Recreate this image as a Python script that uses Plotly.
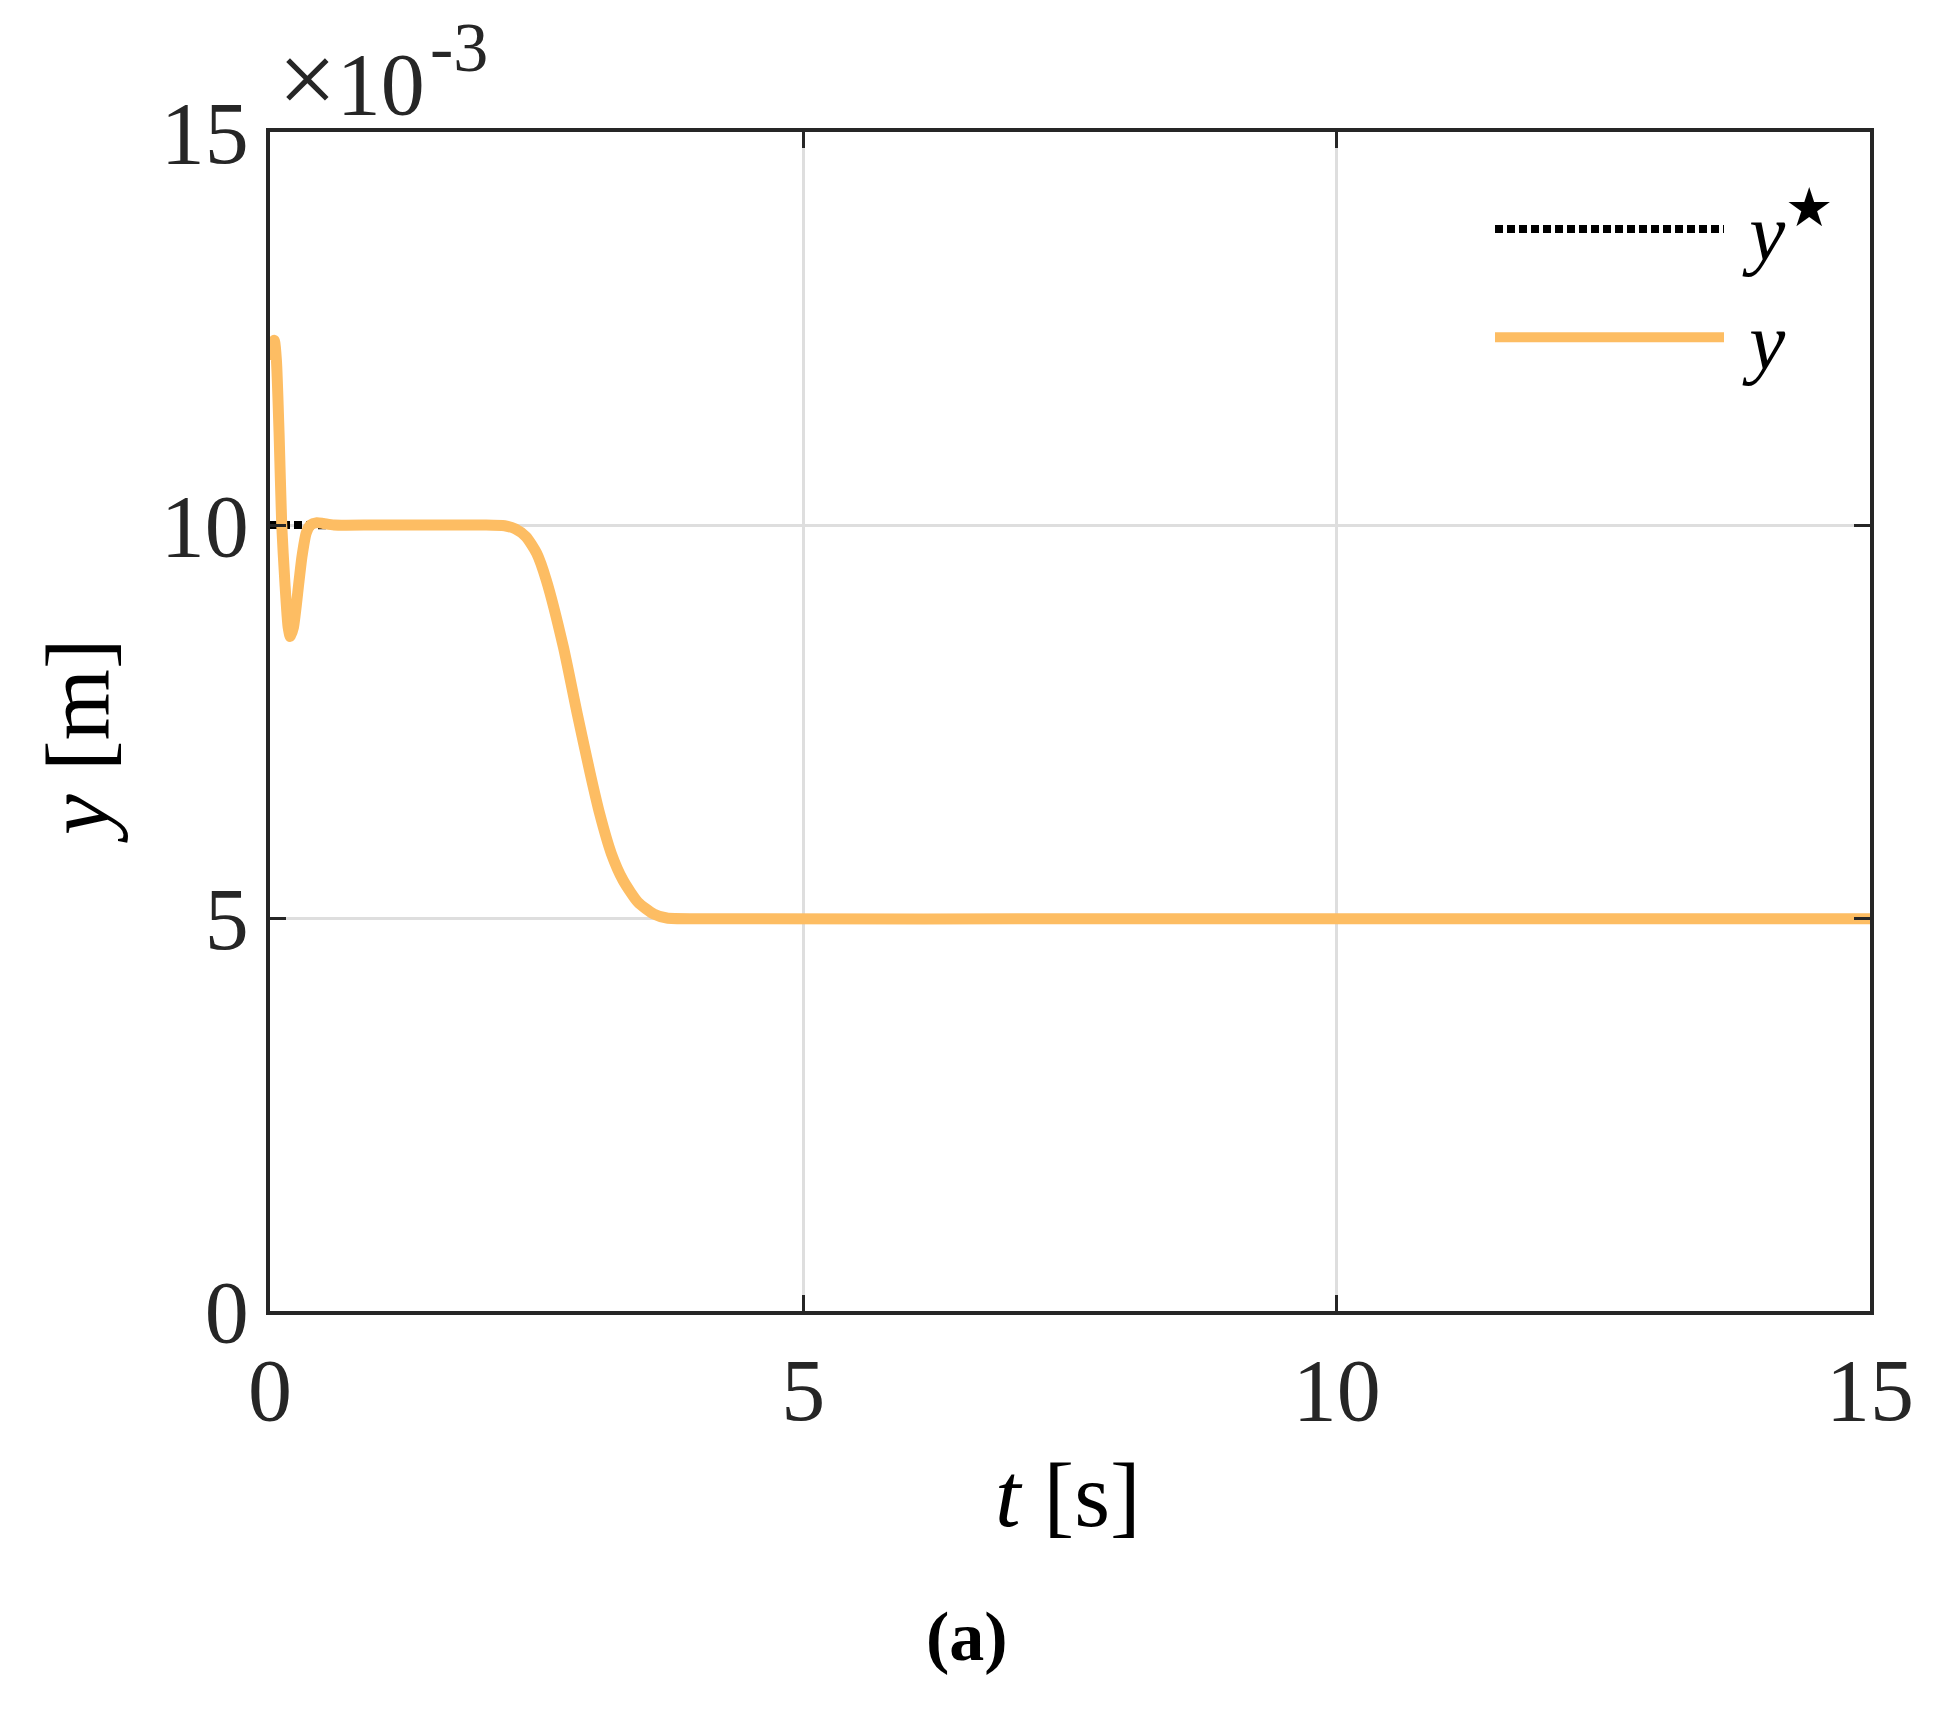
import plotly.graph_objects as go

# Time [s] and output y [x1e-3 m]
t_y = [0, 0.02, 0.04, 0.06, 0.085, 0.11, 0.14, 0.17, 0.19, 0.22, 0.27, 0.30, 0.34,
       0.38, 0.44, 0.5, 0.6, 1.0, 2.0, 2.2, 2.3, 2.4, 2.5, 2.59, 2.75, 2.88, 3.0, 3.09,
       3.2, 3.31, 3.45, 3.6, 3.72, 4.0, 8.0, 15.0]
y_vals = [12.1, 12.3, 12.35, 12.1, 11.17, 10.0, 9.26, 8.7, 8.58, 8.7, 9.26, 9.6, 9.9,
          10.0, 10.03, 10.02, 10.0, 10.0, 10.0, 9.99, 9.95, 9.85, 9.64, 9.30, 8.45, 7.60, 6.85, 6.33,
          5.82, 5.48, 5.2, 5.05, 5.0, 4.99, 4.99, 4.99]

# Reference trajectory y*
t_ref = [0, 0.5, 1.0, 2.0, 2.2, 2.3, 2.4, 2.5, 2.59, 2.75, 2.88, 3.0, 3.09,
         3.2, 3.31, 3.45, 3.6, 3.72, 4.0, 8.0, 15.0]
y_ref = [10.0, 10.0, 10.0, 10.0, 9.99, 9.95, 9.85, 9.64, 9.30, 8.45, 7.60, 6.85, 6.33,
         5.82, 5.48, 5.2, 5.05, 5.0, 4.99, 4.99, 4.99]

x_ticks = [0, 5, 10, 15]
y_ticks = [0, 5, 10, 15]

FONT = "Liberation Serif"
AX = "#262626"

fig = go.Figure()
fig.add_trace(go.Scatter(x=t_ref, y=y_ref, mode="lines",
                         name="\u00a0<i>y</i><sup><span style='font-size:54px'>★</span></sup>",
                         line=dict(color="black", width=8, dash="8px,4px")))
fig.add_trace(go.Scatter(x=t_y, y=y_vals, mode="lines", name="\u00a0<i>y</i>",
                         line=dict(color="#FDBD63", width=11, shape="spline", smoothing=0.6)))

axis_common = dict(showgrid=True, gridcolor="#DEDEDE", gridwidth=2.5, zeroline=False,
                   showline=True, linecolor=AX, linewidth=3.5, mirror="ticks",
                   ticks="inside", ticklen=16, tickwidth=3, tickcolor=AX,
                   tickfont=dict(family=FONT, size=88, color=AX))

fig.update_layout(
    width=1945, height=1711, autosize=False,
    margin=dict(l=270, r=75, t=132, b=400),
    paper_bgcolor="white", plot_bgcolor="white",
    xaxis=dict(range=[0, 15], tickvals=x_ticks, ticktext=[str(v) for v in x_ticks], **axis_common),
    yaxis=dict(range=[0, 15], tickvals=y_ticks, ticktext=[str(v) for v in y_ticks], **axis_common),
    showlegend=True,
    legend=dict(x=0.7625, y=0.968, xanchor="left", yanchor="top", bgcolor="rgba(0,0,0,0)",
                font=dict(family=FONT, size=81, color="black"), itemwidth=229),
    annotations=[
        dict(text="<span style='font-size:104px'>×</span>10", x=0.0, y=1.0, xref="paper", yref="paper",
             xanchor="left", yanchor="bottom",
             xshift=6, yshift=-6, showarrow=False, font=dict(family=FONT, size=88, color=AX)),
        dict(text="-3", x=0.0, y=1.0, xref="paper", yref="paper", xanchor="left", yanchor="bottom",
             xshift=158, yshift=44, showarrow=False, font=dict(family=FONT, size=70, color=AX)),
        dict(text="<i>t</i> [s]", x=0.4985, y=-0.156, xref="paper", yref="paper",
             xanchor="center", yanchor="middle", showarrow=False,
             font=dict(family=FONT, size=92, color="black")),
        dict(text="<i>y</i> [m]", x=-0.12, y=0.4835, xref="paper", yref="paper", textangle=-90,
             xanchor="center", yanchor="middle", showarrow=False,
             font=dict(family=FONT, size=92, color="black")),
        dict(text="<b>(a)</b>", x=0.4356, y=-0.2765, xref="paper", yref="paper",
             xanchor="center", yanchor="middle", showarrow=False,
             font=dict(family=FONT, size=70, color="black")),
    ],
)

fig.write_html("out.html", config={"displayModeBar": False},
               post_script="document.body.style.margin='0';document.body.style.overflow='hidden';")
